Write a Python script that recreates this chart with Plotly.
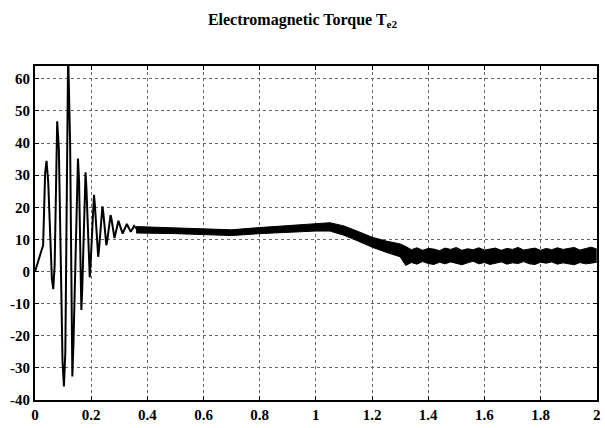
import plotly.graph_objects as go

# Early oscillatory transient (time s, torque)
osc_t = [0.000, 0.029, 0.036, 0.041, 0.047, 0.060, 0.065, 0.070, 0.079, 0.085,
         0.098, 0.103, 0.108, 0.118, 0.125, 0.130, 0.133, 0.137, 0.150, 0.153,
         0.157, 0.163, 0.165, 0.168, 0.180, 0.183, 0.192, 0.195, 0.198, 0.210,
         0.213, 0.222, 0.225, 0.228, 0.240, 0.243, 0.251, 0.254, 0.257, 0.269,
         0.272, 0.283, 0.297, 0.312, 0.327, 0.341, 0.353, 0.365]
osc_v = [0.0, 8.2, 30.5, 34.5, 28.0, -2.0, -5.5, 2.0, 46.8, 38.0,
         -28.0, -35.8, -25.0, 68.0, 40.0, -25.0, -32.7, -22.0, 31.0, 35.2,
         28.0, -8.0, -12.0, -6.0, 30.9, 26.0, 1.0, -1.8, 2.5, 23.9,
         21.0, 6.5, 4.6, 7.0, 20.3, 18.5, 9.5, 8.2, 9.5, 17.6,
         16.5, 10.4, 15.8, 11.8, 14.8, 12.4, 14.2, 13.0]

# Ripple band (upper / lower envelope)
band_t = [0.36, 0.40, 0.50, 0.60, 0.70, 0.80, 0.90, 1.00, 1.05, 1.10, 1.15, 1.20, 1.25, 1.30,
          1.32, 1.34, 1.36, 1.38, 1.40, 1.42, 1.44, 1.46, 1.48, 1.50, 1.52, 1.54,
          1.56, 1.58, 1.60, 1.62, 1.64, 1.66, 1.68, 1.70, 1.72, 1.74, 1.76, 1.78,
          1.80, 1.82, 1.84, 1.86, 1.88, 1.90, 1.92, 1.94, 1.96, 1.98, 2.00]
band_hi = [14.0, 13.9, 13.6, 13.3, 13.0, 13.7, 14.4, 14.9, 15.2, 14.2, 12.5, 10.7, 9.5, 8.6,
           7.8, 6.8, 7.4, 6.6, 7.2, 7.0, 6.5, 7.3, 6.9, 7.5, 6.6, 7.1,
           6.8, 7.4, 6.7, 7.0, 7.3, 6.6, 7.2, 6.9, 7.5, 6.7, 7.0, 7.3,
           6.6, 7.2, 6.8, 7.4, 6.9, 7.1, 7.5, 6.7, 7.2, 7.6, 7.0]
band_lo = [12.0, 12.0, 11.8, 11.5, 11.2, 11.8, 12.3, 12.6, 12.6, 11.3, 9.5, 7.6, 6.0, 4.6,
           1.9, 2.8, 2.3, 3.1, 2.5, 2.2, 2.9, 2.4, 3.0, 2.6, 2.1, 2.7,
           3.2, 2.4, 2.8, 2.2, 2.6, 3.0, 2.3, 2.7, 2.5, 3.1, 2.4, 2.2,
           2.9, 2.6, 3.0, 2.3, 2.7, 2.5, 2.1, 2.8, 2.4, 2.6, 2.9]

x_ticks = [0, 0.2, 0.4, 0.6, 0.8, 1, 1.2, 1.4, 1.6, 1.8, 2]
x_labels = ["0", "0.2", "0.4", "0.6", "0.8", "1", "1.2", "1.4", "1.6", "1.8", "2"]
y_ticks = [-40, -30, -20, -10, 0, 10, 20, 30, 40, 50, 60]
y_labels = ["-40", "-30", "-20", "-10", "0", "10", "20", "30", "40", "50", "60"]

fig = go.Figure()
fig.add_trace(go.Scatter(x=osc_t, y=osc_v, mode="lines",
                         line=dict(color="black", width=2), showlegend=False))
fig.add_trace(go.Scatter(x=band_t, y=band_hi, mode="lines",
                         line=dict(color="black", width=1), showlegend=False))
fig.add_trace(go.Scatter(x=band_t, y=band_lo, mode="lines", fill="tonexty",
                         fillcolor="black",
                         line=dict(color="black", width=1), showlegend=False))

serif = "Liberation Serif, Times New Roman, serif"
axis_common = dict(showline=True, linecolor="black", linewidth=2, mirror="ticks",
                   ticks="inside", ticklen=4, tickcolor="black",
                   showgrid=True, gridcolor="#666", griddash="dot", gridwidth=1,
                   zeroline=False, ticklabeloverflow="allow",
                   tickfont=dict(family=serif, size=15, color="black"))

fig.update_layout(
    width=605, height=428,
    font=dict(family=serif, color="black"),
    margin=dict(l=35, r=5, t=66, b=20),
    paper_bgcolor="white", plot_bgcolor="white",
    title=dict(text="<b>Electromagnetic Torque T<sub>e2</sub></b>",
               x=0.5, xanchor="center", y=0.955, yanchor="middle",
               font=dict(family=serif, size=16, color="black")),
    xaxis=dict(range=[0, 2.001], tickvals=x_ticks,
               ticktext=["<b>" + s + "</b>" for s in x_labels],
               **axis_common),
    yaxis=dict(range=[-40, 64], tickvals=y_ticks,
               ticktext=["<b>" + s + "</b>" for s in y_labels],
               **axis_common),
)

fig.write_html("out.html", config={"displayModeBar": False},
               post_script="document.body.style.margin='0';document.body.style.overflow='hidden';")
